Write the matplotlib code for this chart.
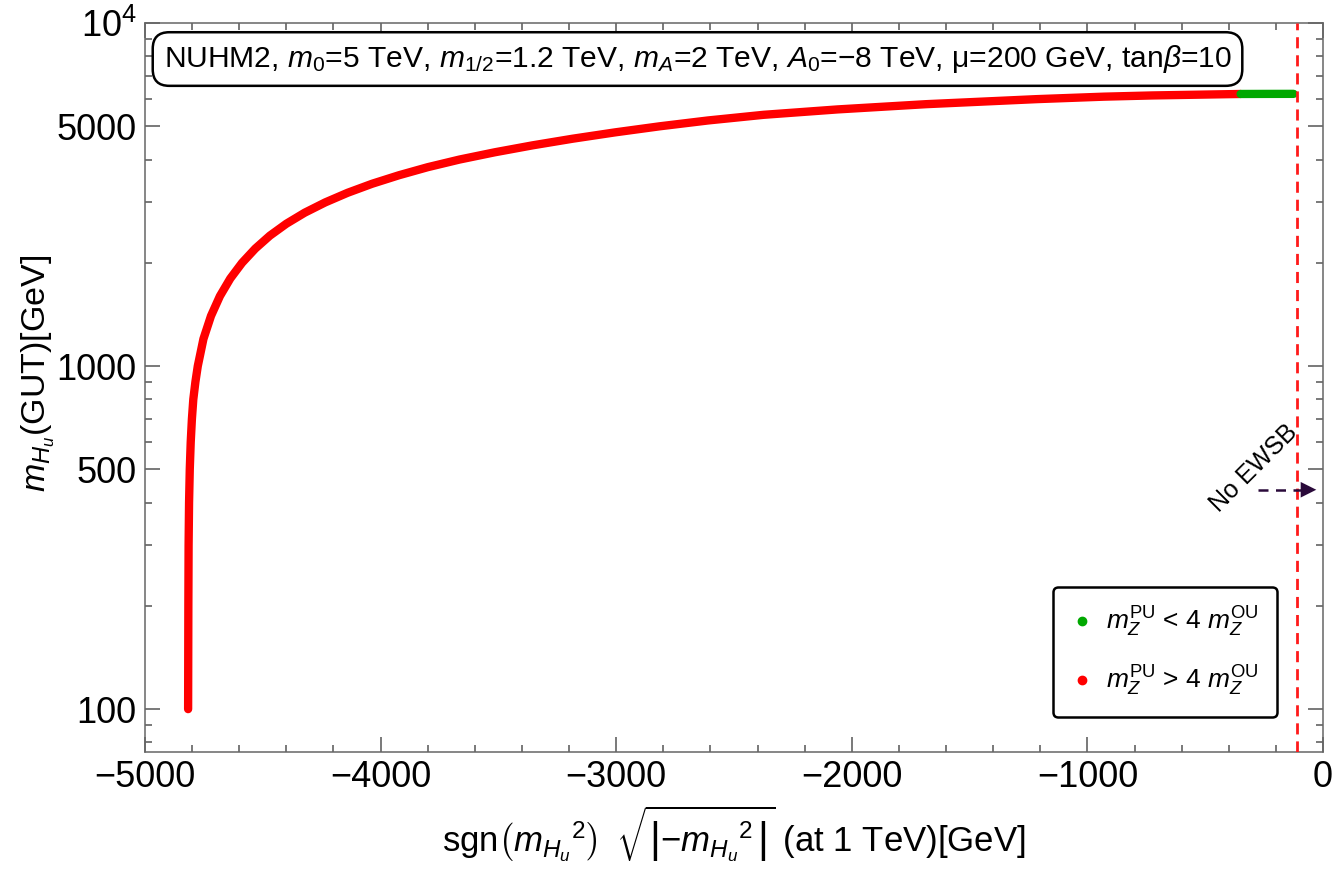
import numpy as np
import matplotlib
matplotlib.use("Agg")
import matplotlib.pyplot as plt
from matplotlib.lines import Line2D
from matplotlib.ticker import FixedLocator, NullFormatter

plt.rcParams['font.family'] = ['Liberation Sans', 'DejaVu Sans']
plt.rcParams['mathtext.fontset'] = 'custom'
plt.rcParams['mathtext.rm'] = 'Liberation Sans'
plt.rcParams['mathtext.it'] = 'Liberation Sans:italic'
plt.rcParams['mathtext.bf'] = 'Liberation Sans:bold'

# red points (mZ^PU > 4 mZ^OU)
red_mhu_gut = [100, 200, 300, 400, 500, 600, 700, 800, 900, 1000, 1200, 1400,
               1600, 1800, 2000, 2200, 2400, 2600, 2800, 3000, 3200, 3400,
               3600, 3800, 4000, 4200, 4400, 4600, 4800, 5000, 5200, 5400,
               5600, 5800, 6000, 6100, 6150, 6190, 6211]
red_sgn_mhu = [-4817, -4816, -4815, -4813, -4810, -4806, -4801, -4795, -4786,
               -4776, -4752, -4720, -4682, -4638, -4588, -4532, -4470, -4400,
               -4322, -4235, -4140, -4036, -3922, -3800, -3665, -3515, -3355,
               -3185, -3005, -2815, -2610, -2375, -2060, -1685, -1215, -930,
               -725, -480, -350]

# green points (mZ^PU < 4 mZ^OU)
green_mhu_gut = [6211, 6214, 6216]
green_sgn_mhu = [-350, -240, -125]

no_ewsb_x = -110
arrow_y = 436

xticks = [-5000, -4000, -3000, -2000, -1000, 0]
xtick_labels = ['\u22125000', '\u22124000', '\u22123000', '\u22122000', '\u22121000', '0']
yticks = [100, 500, 1000, 5000, 10000]
ytick_labels = ['100', '500', '1000', '5000', '$10^4$']

fig = plt.figure(figsize=(13.34, 8.82), dpi=100)
ax = fig.add_axes([0.1087, 0.1474, 0.8831, 0.8265])

ax.plot(red_sgn_mhu, red_mhu_gut, color='#ff0000', lw=6, solid_capstyle='round',
        solid_joinstyle='round', zorder=3)
ax.plot(green_sgn_mhu, green_mhu_gut, color='#00a800', lw=6, solid_capstyle='round', zorder=3)

ax.axvline(no_ewsb_x, color='#ff1a1a', lw=2, ls=(0, (4, 2.5)), zorder=4)

# No EWSB arrow
ax.plot([-277, -60], [arrow_y, arrow_y], color='#2a0a3a', lw=1.8, ls=(0, (4, 3)), zorder=5)
ax.annotate('', xy=(-17, arrow_y), xytext=(-75, arrow_y),
            arrowprops=dict(arrowstyle='-|>', mutation_scale=28, color='#2a0a3a', lw=0.01),
            zorder=5)
ax.text(-292, 502, 'No EWSB', rotation=45, fontsize=18, ha='center', va='center', zorder=5)

ax.set_yscale('log')
ax.set_xlim(-5000, 0)
ax.set_ylim(75, 10000)

ax.set_xticks(xticks)
ax.set_xticklabels(xtick_labels)
ax.xaxis.set_minor_locator(FixedLocator(np.arange(-5000, 1, 200)))
ax.set_yticks(yticks)
ax.set_yticklabels(ytick_labels)
yminor = [m * 10 ** d for d in (1, 2, 3) for m in range(2, 10)]
ax.yaxis.set_minor_locator(FixedLocator(yminor))
ax.yaxis.set_minor_formatter(NullFormatter())

ax.tick_params(which='both', direction='in', top=True, right=True, colors='#555555',
               labelcolor='black', labelsize=26, width=1.1)
ax.tick_params(which='major', length=11, pad=6)
ax.tick_params(which='minor', length=5)
for s in ax.spines.values():
    s.set_color('#666666')
    s.set_linewidth(1.1)

ax.set_xlabel(r'sgn$\left(m_{H_u}{}^2\right)\;\; \sqrt{\left|{-}m_{H_u}{}^2\,\right|}$ (at 1 TeV)[GeV]',
              fontsize=25, labelpad=6)
ax.set_ylabel(r'$m_{H_u}$(GUT)[GeV]', fontsize=24.5)
ax.yaxis.set_label_coords(-0.075, 0.52)

ax.text(0.469, 0.9506,
        'NUHM2, $m_0$=5 TeV, $m_{1/2}$=1.2 TeV, $m_A$=2 TeV, $A_0$=$-$8 TeV, '
        '\u03bc=200 GeV, tan$\\beta$=10',
        transform=ax.transAxes, ha='center', va='center', fontsize=21.6, zorder=6,
        bbox=dict(boxstyle='round,pad=0.36,rounding_size=0.55', fc='white', ec='black', lw=1.8))

handles = [Line2D([], [], ls='none', marker='o', ms=6, color='#00a800'),
           Line2D([], [], ls='none', marker='o', ms=6, color='#ff0000')]
labels = [r'$m_Z^{\rm PU}$ < 4 $m_Z^{\rm OU}$', r'$m_Z^{\rm PU}$ > 4 $m_Z^{\rm OU}$']
leg = ax.legend(handles, labels, loc='lower right', bbox_to_anchor=(0.972, 0.030),
                fontsize=19, frameon=True, fancybox=True, framealpha=1,
                edgecolor='black', handletextpad=0.5, labelspacing=0.95,
                borderpad=0.7, handlelength=0.8)
leg.get_frame().set_linewidth(1.8)
leg.set_zorder(6)

fig.savefig('out.png', dpi=100)
